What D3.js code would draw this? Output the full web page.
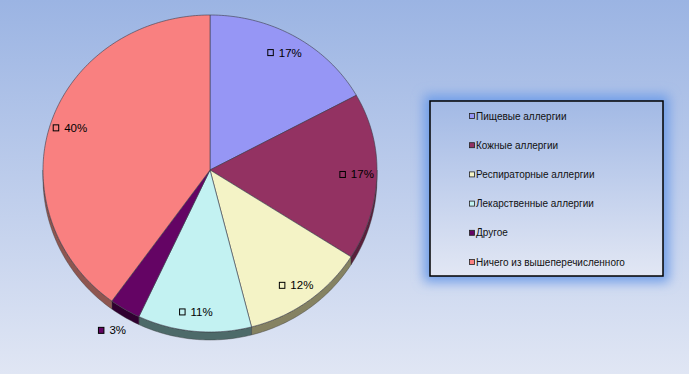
<!DOCTYPE html>
<html>
<head>
<meta charset="utf-8">
<script src="https://cdn.jsdelivr.net/npm/d3@7"></script>
<style>
html,body{margin:0;padding:0;overflow:hidden;}
svg{display:block;}
text{font-family:"Liberation Sans",Arial,sans-serif;}
</style>
</head>
<body>
<svg id="chart" width="689" height="374"></svg>
<script>
const categories = ["Пищевые аллергии","Кожные аллергии","Респираторные аллергии","Лекарственные аллергии","Другое","Ничего из вышеперечисленного"];
const values = [17, 17, 12, 11, 3, 40];
const labels = ["17%","17%","12%","11%","3%","40%"];
const colors = ["#9696F5","#933262","#F4F3C6","#C3F2F2","#640464","#F98080"];
const sideColors = ["#5a5a90","#5a1f3c","#858262","#4d6a69","#300030","#8e5650"];

const W = 689, H = 374;
const svg = d3.select("#chart");
const defs = svg.append("defs");

const bg = defs.append("linearGradient").attr("id","bg").attr("x1",0).attr("y1",0).attr("x2",0).attr("y2",1);
bg.append("stop").attr("offset","0%").attr("stop-color","#9BB4E3");
bg.append("stop").attr("offset","100%").attr("stop-color","#E0E6F4");
svg.append("rect").attr("width",W).attr("height",H).attr("fill","url(#bg)");

const lg = defs.append("linearGradient").attr("id","lg").attr("x1",0).attr("y1",0).attr("x2",0).attr("y2",1);
lg.append("stop").attr("offset","0%").attr("stop-color","#A2B9E5");
lg.append("stop").attr("offset","100%").attr("stop-color","#E2E7F4");

const blur = defs.append("filter").attr("id","glow").attr("x","-30%").attr("y","-30%").attr("width","160%").attr("height","160%");
blur.append("feGaussianBlur").attr("stdDeviation",6);

// pie geometry
const cx = 210, cy = 170, rx = 167, ryTop = 155, ryBot = 162, depth = 8;
const pie = d3.pie().sort(null).startAngle(0).endAngle(2*Math.PI).value(d => d);
const arcs = pie(values);

function pt(a, k, dy) {
  const c = Math.cos(a), s = Math.sin(a);
  const ry = c > 0 ? ryTop : ryBot;
  return [cx + k*rx*s, cy - k*ry*c + (dy||0)];
}
function curve(a0, a1, dy) {
  const n = Math.max(2, Math.ceil((a1-a0)/(Math.PI/180)));
  const pts = [];
  for (let i=0;i<=n;i++) pts.push(pt(a0 + (a1-a0)*i/n, 1, dy));
  return pts;
}
const line = d3.line();

// side walls (visible bottom half)
const g = svg.append("g");
arcs.forEach((d,i) => {
  const a0 = Math.max(d.startAngle, Math.PI/2), a1 = Math.min(d.endAngle, 3*Math.PI/2);
  if (a1 <= a0) return;
  const top = curve(a0, a1, 0);
  const bot = curve(a0, a1, depth).reverse();
  g.append("path").attr("d", line(top.concat(bot)) + "Z")
    .attr("fill", sideColors[i]).attr("stroke","#3a3a3a").attr("stroke-width",0.4);
});

// top faces
arcs.forEach((d,i) => {
  const pts = [[cx,cy]].concat(curve(d.startAngle, d.endAngle, 0));
  g.append("path").attr("d", line(pts) + "Z")
    .attr("fill", colors[i]).attr("stroke","#3c3c4a").attr("stroke-width",0.6)
    .attr("stroke-linejoin","round");
});

// data labels
const lab = svg.append("g");
arcs.forEach((d,i) => {
  const mid = (d.startAngle + d.endAngle)/2;
  const k = d.value < 5 ? 1.15 : 0.88;
  const [x,y] = pt(mid, k, 0);
  const t = lab.append("text").attr("font-size",11.5).attr("fill","#000")
    .attr("dominant-baseline","central").text(labels[i]);
  const tw = t.node().getComputedTextLength();
  const total = 6 + 5 + tw;
  const x0 = x - total/2;
  lab.append("rect").attr("x", x0).attr("y", y-3).attr("width",5.5).attr("height",6)
    .attr("fill", colors[i]).attr("stroke","#000").attr("stroke-width",1);
  t.attr("x", x0 + 11).attr("y", y);
});

// legend
const L = {x:430, y:101, w:233, h:175};
svg.append("rect").attr("x",L.x-6).attr("y",L.y-6).attr("width",L.w+12).attr("height",L.h+12)
  .attr("fill","#6F9DE8").attr("filter","url(#glow)");
svg.append("rect").attr("x",L.x).attr("y",L.y).attr("width",L.w).attr("height",L.h)
  .attr("fill","url(#lg)").attr("stroke","#000").attr("stroke-width",1.5);
const ly = d3.scalePoint().domain(d3.range(categories.length)).range([116, 262]);
const leg = svg.append("g");
categories.forEach((c,i) => {
  const y = ly(i);
  leg.append("rect").attr("x",469.5).attr("y",y-2.5).attr("width",5).attr("height",5)
    .attr("fill",colors[i]).attr("stroke","#222").attr("stroke-width",0.8);
  leg.append("text").attr("x",476).attr("y",y).attr("dominant-baseline","central")
    .attr("font-size",10).attr("fill","#111").text(c);
});
</script>
</body>
</html>
